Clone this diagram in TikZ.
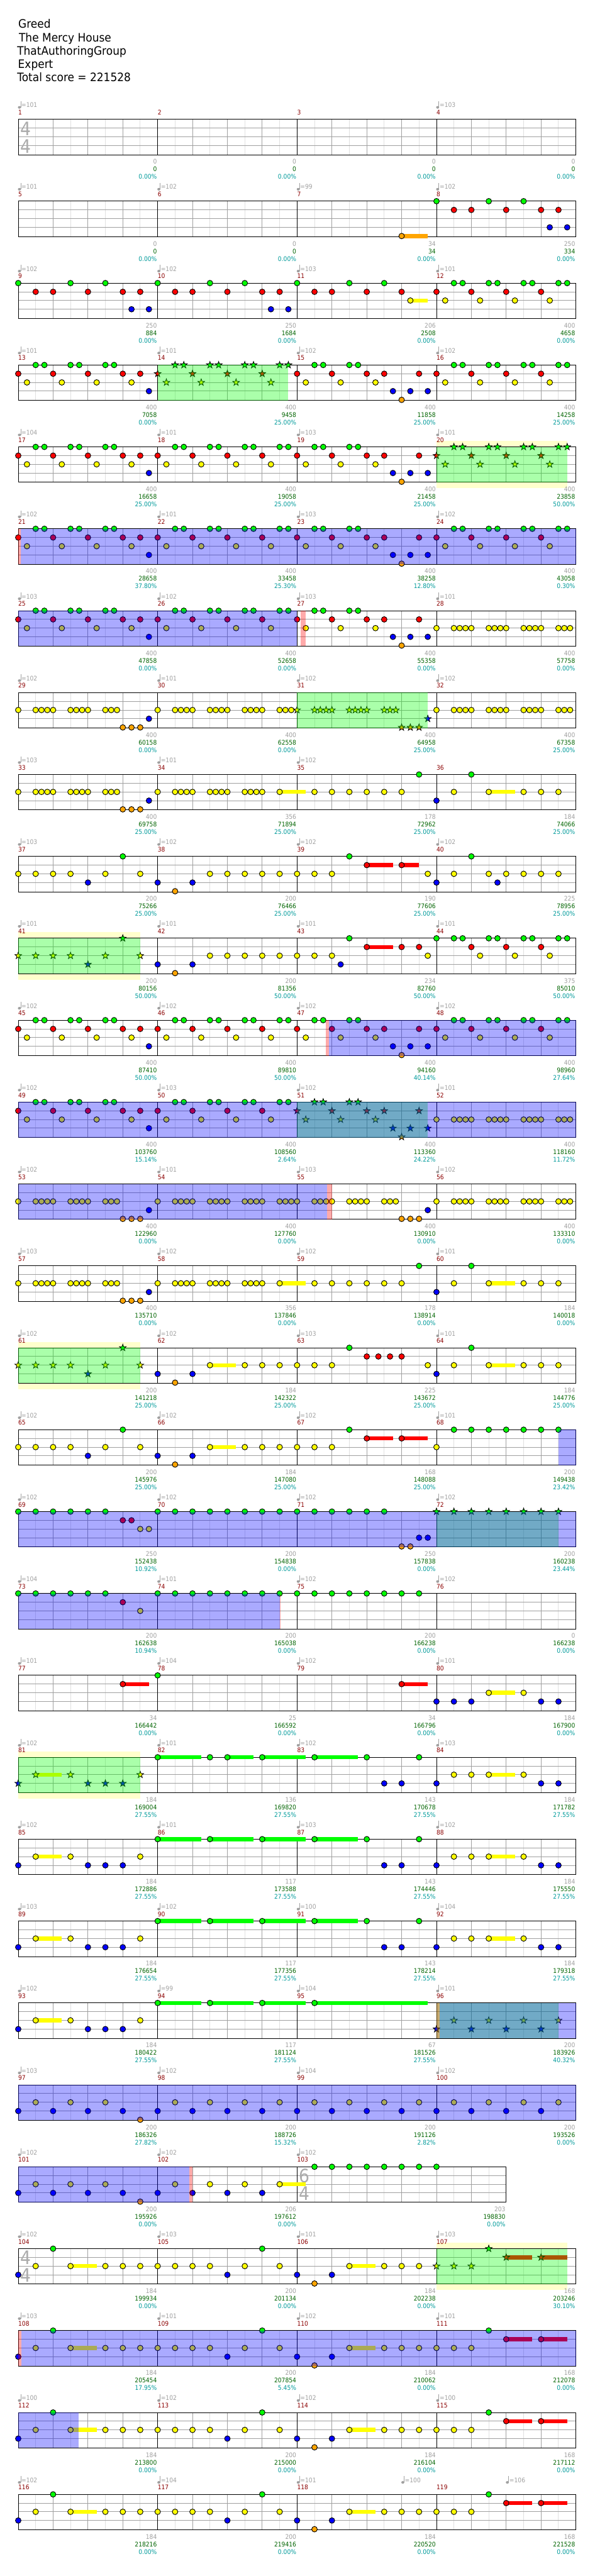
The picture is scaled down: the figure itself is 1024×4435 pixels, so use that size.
\documentclass[tikz,border=0pt]{standalone}
\usepackage{fontspec}
\setmainfont{DejaVu Sans}
\newfontface\narrowf[FakeStretch=.9]{DejaVu Sans}
\newfontface\titlef[FakeStretch=.92]{DejaVu Sans}
\definecolor{gnc}{HTML}{00FF00}
\definecolor{rdc}{HTML}{FF0000}
\definecolor{ylc}{HTML}{FFFF00}
\definecolor{blc}{HTML}{0000FF}
\definecolor{orc}{HTML}{FFA500}
\definecolor{tmpc}{HTML}{A0A0A0}
\definecolor{numc}{HTML}{8B0000}
\definecolor{scc}{HTML}{006400}
\definecolor{pctc}{HTML}{009B9B}
\definecolor{strc}{HTML}{A0A0A0}
\definecolor{ltc}{HTML}{E0E0E0}
\definecolor{tsc}{HTML}{ABABAB}
\tikzset{
  notestyle/.style={draw=black,line width=1pt},
  starstyle/.style={draw=black,line width=.9pt},
  smalltext/.style={inner sep=0pt,font=\narrowf\fontsize{11}{13}\selectfont},
  titletext/.style={inner sep=0pt,anchor=base west,font=\titlef\fontsize{20}{24}\selectfont,text=black},
  tsdigit/.style={inner sep=0pt,anchor=base,text=tsc,font=\narrowf\fontsize{32}{36}\selectfont}
}
\newcount\nodeid
\newcommand\nextid{\global\advance\nodeid by 1 }
\newenvironment{srow}[1]{\begin{scope}[shift={(31.4,{205.4+141*#1})}]}{\end{scope}}
\newcommand\noteat[3]{\foreach \n in {#3} {\draw[notestyle,fill=#1] (15*\n,#2) circle[radius=4.8pt];}}
\newcommand\starat[3]{\foreach \n in {#3} {\begin{scope}[shift={(15*\n,#2)},scale=.87]\draw[starstyle,fill=#1] (0,-7)--(1.65,-2.27)--(6.66,-2.16)--(2.66,.87)--(4.11,5.66)--(0,2.8)--(-4.11,5.66)--(-2.66,.87)--(-6.66,-2.16)--(-1.65,-2.27)--cycle;\end{scope}}}
\newcommand\susat[4]{\fill[#1] (15*#3,#2-3.5) rectangle (15*#4,#2+3.5);}
\newcommand\gN[1]{\noteat{gnc}{0}{#1}}
\newcommand\rN[1]{\noteat{rdc}{15}{#1}}
\newcommand\yN[1]{\noteat{ylc}{30}{#1}}
\newcommand\bN[1]{\noteat{blc}{45}{#1}}
\newcommand\oN[1]{\noteat{orc}{60}{#1}}
\newcommand\gS[1]{\starat{gnc}{0}{#1}}
\newcommand\rS[1]{\starat{rdc}{15}{#1}}
\newcommand\yS[1]{\starat{ylc}{30}{#1}}
\newcommand\bS[1]{\starat{blc}{45}{#1}}
\newcommand\oS[1]{\starat{orc}{60}{#1}}
\newcommand\gH[2]{\susat{gnc}{0}{#1}{#2}}
\newcommand\rH[2]{\susat{rdc}{15}{#1}{#2}}
\newcommand\yH[2]{\susat{ylc}{30}{#1}{#2}}
\newcommand\oH[2]{\susat{orc}{60}{#1}{#2}}
\newcommand\bndB[2]{\fill[blue,fill opacity=1/3] (15*#1,0) rectangle (15*#2,61);}
\newcommand\bndG[2]{\fill[gnc,fill opacity=1/3] (15*#1,0) rectangle (15*#2,61);}
\newcommand\bndP[2]{\fill[rdc,fill opacity=1/3] (15*#1,0) rectangle (15*#2,61);}
\newcommand\pale[2]{\fill[ylc,fill opacity=.2] (15*#1,-10.3) rectangle (15*#2,0);\fill[ylc,fill opacity=.2] (15*#1,61) rectangle (15*#2,71.3);}
\newcommand\gridrow[4]{%
  \foreach \n in {#2} {\draw[ltc,line width=1pt] (15*\n,0) -- (15*\n,61);}
  \foreach \n in {#3} {\draw[strc,line width=1pt] (15*\n,0) -- (15*\n,61);}
  \foreach \s in {15,30,45} {\draw[strc,line width=1pt] (0,\s) -- (15*#1,\s);}
  \foreach \n in {#4} {\draw[black,line width=1pt] (15*\n,0) -- (15*\n,61);}
  \draw[black,line width=1pt] (0,0) rectangle (15*#1,61);}
\newcommand\gridfull{\gridrow{64}{2,6,...,62}{4,8,12,20,24,28,36,40,44,52,56,60}{16,32,48}}
\newcommand\tempo[2]{%
  \fill[tmpc] (15*#1+2,-20.6) ellipse[x radius=2.6pt,y radius=2.3pt];
  \draw[tmpc,line width=.8pt] (15*#1+4.2,-20.6) -- (15*#1+4.2,-31.3);
  \nextid\node[smalltext,anchor=base west,text=tmpc] (t\the\nodeid) at (15*#1+5.4,-20.6) {=#2};}
\newcommand\mlabel[2]{\nextid\node[smalltext,anchor=base west,text=numc] (t\the\nodeid) at (15*#1,-8) {#2};}
\newcommand\scores[4]{%
  \nextid\node[smalltext,anchor=base east,text=tmpc] (t\the\nodeid) at ({15*(#1)-1.2},77) {#2};
  \nextid\node[smalltext,anchor=base east,text=scc] (t\the\nodeid) at ({15*(#1)-1.2},90) {#3};
  \nextid\node[smalltext,anchor=base east,text=pctc] (t\the\nodeid) at ({15*(#1)-1.2},103) {#4};}
\newcommand\meast[6]{\tempo{#1}{#2}\mlabel{#1}{#3}\scores{#1+16}{#4}{#5}{#6}}
\newcommand\timesig[3]{\nextid\node[tsdigit] (t\the\nodeid) at (15*#1+13,27.5) {#2};\nextid\node[tsdigit] (t\the\nodeid) at (15*#1+13,57.8) {#3};}
% repeated note patterns
\newcommand\runA{\yN{0,2,2.667,3.333,4,6,6.667,7.333,8,10,10.667,11.333}}
\newcommand\runB{\yN{16,18,18.667,19.333,20,22,22.667,23.333,24,26,26.667,27.333,28}}
\newcommand\runC{\yN{48,50,50.667,51.333,52,54,54.667,55.333,56,58,58.667,59.333,60,62,62.667,63.333}}
\newcommand\patFull{%
  \gN{2,3,6,7,10,11,18,19,22,23,26,27,30,31,34,35,38,39,50,51,54,55,58,59,62,63}
  \rN{0,4,8,12,14,16,20,24,28,32,36,40,42,46,48,52,56,60}
  \yN{1,5,9,13,17,21,25,29,33,37,41,49,53,57,61}
  \bN{15,43,45,47}\oN{44}}
\newcommand\patE{%
  \yH{30}{33}\yH{54}{57}
  \gN{46,52}\runA\runB
  \yN{30,34,36,38,40,42,44,50,54,58,60,62}
  \bN{15,48}\oN{12,13,14}}
\newcommand\patLong{%
  \yH{6}{9}\yH{38}{41}\rH{56}{59}\rH{60}{63}
  \gN{4,28,54}
  \yN{2,6,10,12,14,16,18,20,22,26,30,38,42,44,46,48,50,52}
  \bN{0,24,32,36}\oN{34}\rN{56,60}}
\newcommand\patGreen{%
  \gH{16}{21}\gH{22}{27}\gH{28}{33}\gH{34}{39}
  \gN{16,22,28,34,40,46}}
\begin{document}
\begin{tikzpicture}[x=1pt,y=-1pt]
\useasboundingbox (0,0) rectangle (1024,4435);
\fill[white] (0,0) rectangle (1024,4435);
\node[titletext] (title1) at (31.4,48) {Greed};
\node[titletext] (title2) at (32.4,71.5) {The Mercy House};
\node[titletext] (title3) at (29.4,94.5) {ThatAuthoringGroup};
\node[titletext] (title4) at (30.9,117.5) {Expert};
\node[titletext] (title5) at (29.4,140.5) {Total score = 221528};
% row 0
\begin{srow}{0}
\gridfull
\timesig{0}{4}{4}
\meast{0}{101}{1}{0}{0}{0.00\%}
\mlabel{16}{2}\scores{32}{0}{0}{0.00\%}
\mlabel{32}{3}\scores{48}{0}{0}{0.00\%}
\meast{48}{103}{4}{0}{0}{0.00\%}
\end{srow}
% row 1
\begin{srow}{1}
\gridfull
\oH{44}{47}\oN{44}\gN{48,54,58}\rN{50,52,56,60,62}\bN{61,63}
\meast{0}{101}{5}{0}{0}{0.00\%}
\meast{16}{102}{6}{0}{0}{0.00\%}
\meast{32}{99}{7}{34}{34}{0.00\%}
\meast{48}{102}{8}{250}{334}{0.00\%}
\end{srow}
% row 2
\begin{srow}{2}
\gridfull
\yH{45}{47}
\gN{0,6,10,16,22,26,32,38,42,50,51,54,55,58,59,62,63}
\rN{2,4,8,12,14,18,20,24,28,30,34,36,40,44,48,52,56,60}
\yN{45,49,53,57,61}\bN{13,15,29,31}
\meast{0}{102}{9}{250}{884}{0.00\%}
\meast{16}{102}{10}{250}{1684}{0.00\%}
\meast{32}{103}{11}{206}{2508}{0.00\%}
\meast{48}{101}{12}{400}{4658}{0.00\%}
\end{srow}
% row 3
\begin{srow}{3}
\gridfull
\gN{2,3,6,7,10,11,34,35,38,39,50,51,54,55,58,59,62,63}
\gS{18,19,22,23,26,27,30,31}
\rN{0,4,8,12,14,32,36,40,42,46,48,52,56,60}
\rS{16,20,24,28}
\yN{1,5,9,13,33,37,41,49,53,57,61}
\yS{17,21,25,29}
\bN{15,43,45,47}\oN{44}
\bndG{16}{31}
\meast{0}{101}{13}{400}{7058}{0.00\%}
\meast{16}{101}{14}{400}{9458}{25.00\%}
\meast{32}{102}{15}{400}{11858}{25.00\%}
\meast{48}{102}{16}{400}{14258}{25.00\%}
\end{srow}
% row 4
\begin{srow}{4}
\pale{48}{63}
\gridfull
\gN{2,3,6,7,10,11,18,19,22,23,26,27,30,31,34,35,38,39}
\gS{50,51,54,55,58,59,62,63}
\rN{0,4,8,12,14,16,20,24,28,32,36,40,42,46}
\rS{48,52,56,60}
\yN{1,5,9,13,17,21,25,29,33,37,41}
\yS{49,53,57,61}
\bN{15,43,45,47}\oN{44}
\bndG{48}{63}
\meast{0}{104}{17}{400}{16658}{25.00\%}
\meast{16}{101}{18}{400}{19058}{25.00\%}
\meast{32}{103}{19}{400}{21458}{25.00\%}
\meast{48}{101}{20}{400}{23858}{50.00\%}
\end{srow}
% row 5
\begin{srow}{5}
\gridfull
\patFull
\bndP{0}{.3}\bndB{.3}{64}
\meast{0}{102}{21}{400}{28658}{37.80\%}
\meast{16}{101}{22}{400}{33458}{25.30\%}
\meast{32}{103}{23}{400}{38258}{12.80\%}
\meast{48}{102}{24}{400}{43058}{0.30\%}
\end{srow}
% row 6
\begin{srow}{6}
\gridfull
\gN{2,3,6,7,10,11,18,19,22,23,26,27,30,31,34,35,38,39}
\rN{0,4,8,12,14,16,20,24,28,32,36,40,42,46}
\yN{1,5,9,13,17,21,25,29,33,37,41}
\runC
\bN{15,43,45,47}\oN{44}
\bndB{0}{32}\bndP{32.4}{33}
\meast{0}{103}{25}{400}{47858}{0.00\%}
\meast{16}{102}{26}{400}{52658}{0.00\%}
\meast{32}{103}{27}{400}{55358}{0.00\%}
\meast{48}{101}{28}{400}{57758}{0.00\%}
\end{srow}
% row 7
\begin{srow}{7}
\gridfull
\runA\runB
\yN{30,30.667,31.333}
\yS{32,34,34.667,35.333,36,38,38.667,39.333,40,42,42.667,43.333}
\runC
\bN{15}\bS{47}\oN{12,13,14}\oS{44,45,46}
\bndG{32}{47}
\meast{0}{102}{29}{400}{60158}{0.00\%}
\meast{16}{101}{30}{400}{62558}{0.00\%}
\meast{32}{102}{31}{400}{64958}{25.00\%}
\meast{48}{102}{32}{400}{67358}{25.00\%}
\end{srow}
% row 8
\begin{srow}{8}
\gridfull
\patE
\meast{0}{103}{33}{400}{69758}{25.00\%}
\meast{16}{101}{34}{356}{71894}{25.00\%}
\meast{32}{102}{35}{178}{72962}{25.00\%}
\mlabel{48}{36}\scores{64}{184}{74066}{25.00\%}
\end{srow}
% row 9
\begin{srow}{9}
\gridfull
\rH{40}{43}\rH{44}{46}
\gN{12,38,52}\rN{40,44}
\yN{0,2,4,6,10,14,22,24,26,28,30,32,34,36,47,50,54,56,58,60,62}
\bN{8,16,20,48,55}\oN{18}
\meast{0}{103}{37}{200}{75266}{25.00\%}
\meast{16}{102}{38}{200}{76466}{25.00\%}
\meast{32}{102}{39}{190}{77606}{25.00\%}
\meast{48}{102}{40}{225}{78956}{25.00\%}
\end{srow}
% row 10
\begin{srow}{10}
\pale{0}{14}
\gridfull
\rH{40}{43}
\gS{12}\yS{0,2,4,6,10,14}\bS{8}
\yN{22,24,26,28,30,32,34,36,47,53,57,61}
\bN{16,20,37}\oN{18}
\gN{38,48,50,51,54,55,58,59,62,63}
\rN{40,44,46,52,56,60}
\bndG{0}{14}
\meast{0}{101}{41}{200}{80156}{50.00\%}
\meast{16}{101}{42}{200}{81356}{50.00\%}
\meast{32}{101}{43}{234}{82760}{50.00\%}
\meast{48}{101}{44}{375}{85010}{50.00\%}
\end{srow}
% row 11
\begin{srow}{11}
\gridfull
\patFull
\bndP{35.3}{35.65}\bndB{35.65}{64}
\meast{0}{102}{45}{400}{87410}{50.00\%}
\meast{16}{102}{46}{400}{89810}{50.00\%}
\meast{32}{102}{47}{400}{94160}{40.14\%}
\meast{48}{102}{48}{400}{98960}{27.64\%}
\end{srow}
% row 12
\begin{srow}{12}
\gridfull
\gN{2,3,6,7,10,11,18,19,22,23,26,27,30,31}\gS{34,35,38,39}
\rN{0,4,8,12,14,16,20,24,28}\rS{32,36,40,42,46}
\yN{1,5,9,13,17,21,25,29}\yS{33,37,41}
\runC
\bN{15}\bS{43,45,47}\oS{44}
\bndG{32}{47}\bndB{0}{64}
\meast{0}{102}{49}{400}{103760}{15.14\%}
\meast{16}{103}{50}{400}{108560}{2.64\%}
\meast{32}{102}{51}{400}{113360}{24.22\%}
\meast{48}{101}{52}{400}{118160}{11.72\%}
\end{srow}
% row 13
\begin{srow}{13}
\gridfull
\runA\runB
\yN{30,30.667,31.333,32,34,34.667,35.333,36,38,38.667,39.333,40,42,42.667,43.333}
\runC
\bN{15,47}\oN{12,13,14,44,45,46}
\bndB{0}{35.45}\bndP{35.45}{36}
\meast{0}{102}{53}{400}{122960}{0.00\%}
\meast{16}{101}{54}{400}{127760}{0.00\%}
\meast{32}{103}{55}{400}{130910}{0.00\%}
\meast{48}{102}{56}{400}{133310}{0.00\%}
\end{srow}
% row 14
\begin{srow}{14}
\gridfull
\patE
\meast{0}{103}{57}{400}{135710}{0.00\%}
\meast{16}{102}{58}{356}{137846}{0.00\%}
\meast{32}{102}{59}{178}{138914}{0.00\%}
\meast{48}{101}{60}{184}{140018}{0.00\%}
\end{srow}
% row 15
\begin{srow}{15}
\pale{0}{14}
\gridfull
\yH{22}{25}\yH{54}{57}
\gS{12}\yS{0,2,4,6,10,14}\bS{8}
\bN{16,20,48}\oN{18}
\yN{22,26,28,30,32,34,36,47,50,54,58,60,62}
\gN{38,52}\rN{40,41.333,42.667,44}
\bndG{0}{14}
\meast{0}{102}{61}{200}{141218}{25.00\%}
\meast{16}{102}{62}{184}{142322}{25.00\%}
\meast{32}{103}{63}{225}{143672}{25.00\%}
\meast{48}{101}{64}{184}{144776}{25.00\%}
\end{srow}
% row 16
\begin{srow}{16}
\gridfull
\yH{22}{25}\rH{40}{43}\rH{44}{47}
\gN{12,38,50,52,54,56,58,60,62}
\yN{0,2,4,6,10,14,22,26,28,30,32,34,36,48}
\bN{8,16,20}\oN{18}\rN{40,44}
\bndB{62}{64}
\meast{0}{102}{65}{200}{145976}{25.00\%}
\meast{16}{102}{66}{184}{147080}{25.00\%}
\meast{32}{102}{67}{168}{148088}{25.00\%}
\meast{48}{101}{68}{200}{149438}{23.42\%}
\end{srow}
% row 17
\begin{srow}{17}
\gridfull
\gN{0,2,4,6,8,10,16,18,20,22,24,26,28,30,32,34,36,38,40,42}
\gS{48,50,52,54,56,58,60,62}
\rN{12,13}\yN{14,15}\bN{46,47}\oN{44,45}
\bndG{48}{62}\bndB{0}{64}
\meast{0}{102}{69}{250}{152438}{10.92\%}
\meast{16}{102}{70}{200}{154838}{0.00\%}
\meast{32}{102}{71}{250}{157838}{0.00\%}
\meast{48}{102}{72}{200}{160238}{23.44\%}
\end{srow}
% row 18
\begin{srow}{18}
\gridfull
\gN{0,2,4,6,8,10,16,18,20,22,24,26,28,30,32,34,36,38,40,42,44,46}
\rN{12}\yN{14}
\bndB{0}{30}\bndP{30}{30.08}
\meast{0}{104}{73}{200}{162638}{10.94\%}
\meast{16}{101}{74}{200}{165038}{0.00\%}
\meast{32}{102}{75}{200}{166238}{0.00\%}
\meast{48}{102}{76}{0}{166238}{0.00\%}
\end{srow}
% row 19
\begin{srow}{19}
\gridfull
\rH{12}{15}\rH{44}{47}\yH{54}{57}
\rN{12,44}\gN{16}\bN{48,50,52,60,62}\yN{54,58}
\meast{0}{101}{77}{34}{166442}{0.00\%}
\meast{16}{104}{78}{25}{166592}{0.00\%}
\meast{32}{102}{79}{34}{166796}{0.00\%}
\meast{48}{101}{80}{184}{167900}{0.00\%}
\end{srow}
% row 20
\begin{srow}{20}
\pale{0}{14}
\gridfull
\yH{2}{5}\yH{54}{57}
\gH{16}{21}\gH{24}{27}\gH{28}{33}\gH{34}{39}
\bS{0,8,10,12}\yS{2,6,14}
\gN{16,22,24,28,34,40,46}
\bN{42,44,48,60,62}\yN{50,52,54,58}
\bndG{0}{14}
\meast{0}{102}{81}{184}{169004}{27.55\%}
\meast{16}{101}{82}{136}{169820}{27.55\%}
\meast{32}{102}{83}{143}{170678}{27.55\%}
\meast{48}{103}{84}{184}{171782}{27.55\%}
\end{srow}
% row 21
\begin{srow}{21}
\gridfull
\yH{2}{5}\yH{54}{57}
\patGreen
\yN{2,6,14,50,52,54,58}\bN{0,8,10,12,42,44,48,60,62}
\meast{0}{102}{85}{184}{172886}{27.55\%}
\meast{16}{101}{86}{117}{173588}{27.55\%}
\meast{32}{103}{87}{143}{174446}{27.55\%}
\meast{48}{102}{88}{184}{175550}{27.55\%}
\end{srow}
% row 22
\begin{srow}{22}
\gridfull
\yH{2}{5}\yH{54}{57}
\patGreen
\yN{2,6,14,50,52,54,58}\bN{0,8,10,12,42,44,48,60,62}
\meast{0}{103}{89}{184}{176654}{27.55\%}
\meast{16}{102}{90}{117}{177356}{27.55\%}
\meast{32}{100}{91}{143}{178214}{27.55\%}
\meast{48}{104}{92}{184}{179318}{27.55\%}
\end{srow}
% row 23
\begin{srow}{23}
\gridfull
\yH{2}{5}
\gH{16}{21}\gH{22}{27}\gH{28}{33}\gH{34}{47}
\gN{16,22,28,34}
\yN{2,6,14}\bN{0,8,10,12}
\bS{48,52,56,60}\yS{50,54,58,62}
\bndG{48}{62}\bndP{48}{48.35}\bndB{48.35}{64}
\meast{0}{102}{93}{184}{180422}{27.55\%}
\meast{16}{99}{94}{117}{181124}{27.55\%}
\meast{32}{104}{95}{67}{181526}{27.55\%}
\meast{48}{101}{96}{200}{183926}{40.32\%}
\end{srow}
% row 24
\begin{srow}{24}
\gridfull
\yN{2,6,10,18,22,26,30,34,38,42,46,50,54,58,62}
\bN{0,4,8,12,16,20,24,28,32,36,40,44,48,52,56,60}\oN{14}
\bndB{0}{64}
\meast{0}{103}{97}{200}{186326}{27.82\%}
\meast{16}{102}{98}{200}{188726}{15.32\%}
\meast{32}{104}{99}{200}{191126}{2.82\%}
\meast{48}{102}{100}{200}{193526}{0.00\%}
\end{srow}
% row 25
\begin{srow}{25}
\gridrow{56}{2,6,...,54}{4,8,12,20,24,28,36,40,44,48,52}{16,32}
\timesig{32}{6}{4}
\yH{30}{33}
\yN{2,6,10,18,22,26,30}
\bN{0,4,8,12,16,20,24,28}\oN{14}
\gN{34,36,38,40,42,44,46,48}
\bndB{0}{19.6}\bndP{19.6}{20}
\meast{0}{102}{101}{200}{195926}{0.00\%}
\meast{16}{102}{102}{206}{197612}{0.00\%}
\tempo{32}{102}\mlabel{32}{103}\scores{56}{203}{198830}{0.00\%}
\end{srow}
% row 26
\begin{srow}{26}
\pale{48}{63}
\gridfull
\timesig{0}{4}{4}
\yH{6}{9}\yH{38}{41}\rH{56}{59}\rH{60}{63}
\gN{4,28}\gS{54}
\yN{2,6,10,12,14,16,18,20,22,26,30,38,42,44,46}\yS{48,50,52}
\bN{0,24,32,36}\oN{34}\rS{56,60}
\bndG{48}{63}
\meast{0}{102}{104}{184}{199934}{0.00\%}
\meast{16}{103}{105}{200}{201134}{0.00\%}
\meast{32}{101}{106}{184}{202238}{0.00\%}
\meast{48}{103}{107}{168}{203246}{30.10\%}
\end{srow}
% row 27
\begin{srow}{27}
\gridfull
\patLong
\bndP{0}{.35}\bndB{.35}{64}
\meast{0}{103}{108}{184}{205454}{17.95\%}
\meast{16}{101}{109}{200}{207854}{5.45\%}
\meast{32}{102}{110}{184}{210062}{0.00\%}
\meast{48}{101}{111}{168}{212078}{0.00\%}
\end{srow}
% row 28
\begin{srow}{28}
\gridfull
\patLong
\bndB{0}{6.93}
\meast{0}{100}{112}{184}{213800}{0.00\%}
\meast{16}{102}{113}{200}{215000}{0.00\%}
\meast{32}{102}{114}{184}{216104}{0.00\%}
\meast{48}{100}{115}{168}{217112}{0.00\%}
\end{srow}
% row 29
\begin{srow}{29}
\gridfull
\patLong
\meast{0}{102}{116}{184}{218216}{0.00\%}
\meast{16}{104}{117}{200}{219416}{0.00\%}
\meast{32}{101}{118}{184}{220520}{0.00\%}
\tempo{44}{100}\tempo{56}{106}
\mlabel{48}{119}\scores{64}{168}{221528}{0.00\%}
\end{srow}
\end{tikzpicture}
\end{document}
